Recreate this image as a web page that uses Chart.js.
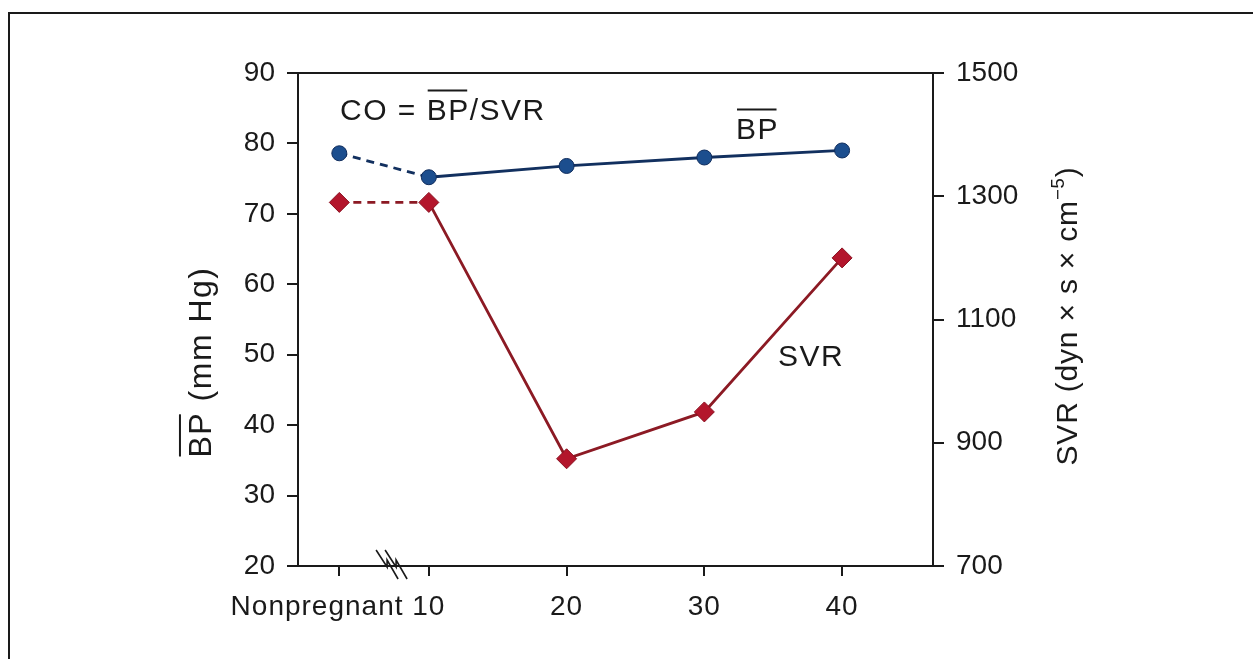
<!doctype html>
<html lang="en">
<head>
  <meta charset="utf-8">
  <title>BP and SVR in pregnancy</title>
  <style>
    html, body { margin: 0; padding: 0; background: #fff; }
    #wrap { width: 1253px; height: 659px; }
  </style>
</head>
<body>
  <div id="wrap"><canvas id="myChart" width="1253" height="659"></canvas></div>
  <script src="https://cdn.jsdelivr.net/npm/chart.js"></script>
  <script>
    // categories on the x axis, and where they sit on the (broken) week axis
    const categories = ['Nonpregnant', '10', '20', '30', '40'];
    const weekPositions = [3.5, 10, 20, 30, 40];

    // mean blood pressure (mm Hg, left axis) and SVR (dyn x s x cm-5, right axis)
    const bpValues = [78.6, 75.2, 76.8, 78.0, 79.0];
    const svrValues = [1290, 1290, 874, 950, 1200];

    const bpTicks = [20, 30, 40, 50, 60, 70, 80, 90];
    const svrTicks = [700, 900, 1100, 1300, 1500];

    const FONT = '"Liberation Sans", Arial, Helvetica, sans-serif';
    const INK = '#1a1a1a';

    const toPoints = vals => weekPositions.map((x, i) => ({ x: x, y: vals[i] }));
    const dashFirst = ctx => ctx.p0DataIndex === 0 ? [8, 6] : undefined;

    // text with optional overline / superscript pieces
    function richText(ctx, parts, x, y, align, size, spacing) {
      const f = s => s + 'px ' + FONT;
      ctx.letterSpacing = (spacing || 0) + 'px';
      const ws = parts.map(p => {
        ctx.font = f(p.sup ? size * 0.62 : size);
        return ctx.measureText(p.text).width;
      });
      const total = ws.reduce((a, b) => a + b, 0);
      let cx = align === 'center' ? x - total / 2 : align === 'right' ? x - total : x;
      ctx.textAlign = 'left';
      ctx.textBaseline = 'alphabetic';
      parts.forEach((p, i) => {
        ctx.font = f(p.sup ? size * 0.62 : size);
        ctx.fillText(p.text, cx, p.sup ? y - size * 0.45 : y);
        if (p.over) {
          const oy = y - size * 0.72 - 8;
          ctx.beginPath();
          ctx.moveTo(cx + 1, oy);
          ctx.lineTo(cx + ws[i] - (spacing || 0) - 1, oy);
          ctx.stroke();
        }
        cx += ws[i];
      });
      ctx.letterSpacing = '0px';
    }

    const decor = {
      id: 'decor',
      afterDraw(chart) {
        const ctx = chart.ctx;
        const a = chart.chartArea;
        const xs = chart.scales.x;
        ctx.save();
        ctx.strokeStyle = INK;
        ctx.fillStyle = INK;
        ctx.lineWidth = 2;

        // outer frame of the figure
        ctx.beginPath();
        ctx.moveTo(9, 659);
        ctx.lineTo(9, 13);
        ctx.lineTo(1253, 13);
        ctx.stroke();

        // top edge of the plot box
        ctx.beginPath();
        ctx.moveTo(a.left - 11, a.top);
        ctx.lineTo(a.right + 11, a.top);
        ctx.stroke();

        // axis break between nonpregnant and week 10
        const mid = (xs.getPixelForValue(weekPositions[0]) + xs.getPixelForValue(weekPositions[1])) / 2;
        ctx.lineWidth = 1.6;
        [mid - 8, mid + 1].forEach(x0 => {
          ctx.beginPath();
          ctx.moveTo(x0, a.bottom - 16);
          ctx.lineTo(x0 + 11, a.bottom + 1);
          ctx.lineTo(x0 + 11, a.bottom - 6);
          ctx.lineTo(x0 + 22, a.bottom + 13);
          ctx.stroke();
        });
        ctx.lineWidth = 2;

        // x tick labels
        ctx.font = '28px ' + FONT;
        ctx.letterSpacing = '1px';
        ctx.textBaseline = 'alphabetic';
        const labelY = a.bottom + 49;
        const p10 = xs.getPixelForValue(weekPositions[1]);
        categories.forEach((c, i) => {
          if (i === 0) return;
          ctx.textAlign = 'center';
          ctx.fillText(c, xs.getPixelForValue(weekPositions[i]), labelY);
        });
        ctx.textAlign = 'right';
        ctx.fillText(categories[0] + ' ', p10 - ctx.measureText(categories[1]).width / 2, labelY);
        ctx.letterSpacing = '0px';

        // annotations
        richText(ctx, [{ text: 'CO = ' }, { text: 'BP', over: true }, { text: '/SVR' }], a.left + 42, a.top + 47, 'left', 30, 1.5);
        richText(ctx, [{ text: 'BP', over: true }], a.left + 438, a.top + 66, 'left', 30, 1.5);
        richText(ctx, [{ text: 'SVR' }], a.left + 480, a.top + 293, 'left', 30, 1.5);

        // left axis title
        ctx.save();
        ctx.translate(211, 362);
        ctx.rotate(-Math.PI / 2);
        richText(ctx, [{ text: 'BP', over: true }, { text: ' (mm Hg)' }], 0, 0, 'center', 32, 1.5);
        ctx.restore();

        // right axis title
        ctx.save();
        ctx.translate(1077, 316);
        ctx.rotate(-Math.PI / 2);
        richText(ctx, [{ text: 'SVR (dyn \u00d7 s \u00d7 cm' }, { text: '\u22125', sup: true }, { text: ')' }], 0, 0, 'center', 30, 0.8);
        ctx.restore();

        ctx.restore();
      }
    };

    const axisGrid = { drawOnChartArea: false, color: INK, lineWidth: 2, tickLength: 11, tickWidth: 2 };
    const axisBorder = { display: true, color: INK, width: 2 };
    const tickFont = { family: FONT, size: 28 };

    const config = {
      type: 'line',
      data: {
        datasets: [
          {
            label: 'BP',
            data: toPoints(bpValues),
            yAxisID: 'y',
            borderColor: '#12305f',
            borderWidth: 2.8,
            pointStyle: 'circle',
            pointRadius: 7.5,
            pointBackgroundColor: '#1c4e8e',
            pointBorderColor: '#0f2c5c',
            pointBorderWidth: 1,
            segment: { borderDash: dashFirst }
          },
          {
            label: 'SVR',
            data: toPoints(svrValues),
            yAxisID: 'y2',
            borderColor: '#8c1a24',
            borderWidth: 2.8,
            pointStyle: 'rectRot',
            pointRadius: 10,
            pointBackgroundColor: '#b3162c',
            pointBorderColor: '#8a1020',
            pointBorderWidth: 1,
            segment: { borderDash: dashFirst }
          }
        ]
      },
      options: {
        responsive: false,
        animation: false,
        layout: { padding: { top: 73, left: 0, right: 0, bottom: 0 } },
        plugins: {
          legend: { display: false },
          tooltip: { enabled: false }
        },
        scales: {
          x: {
            type: 'linear',
            min: 0.5,
            max: 46.6,
            afterBuildTicks: s => { s.ticks = weekPositions.map(v => ({ value: v })); },
            afterFit: s => { s.height = 93; },
            ticks: { display: false },
            grid: Object.assign({}, axisGrid, { tickLength: 10 }),
            border: axisBorder
          },
          y: {
            position: 'left',
            min: 20,
            max: 90,
            afterBuildTicks: s => { s.ticks = bpTicks.map(v => ({ value: v })); },
            afterFit: s => { s.width = 298; },
            ticks: { color: INK, font: tickFont, padding: 12, callback: v => String(v) },
            grid: axisGrid,
            border: axisBorder
          },
          y2: {
            position: 'right',
            min: 700,
            max: 1500,
            afterBuildTicks: s => { s.ticks = svrTicks.map(v => ({ value: v })); },
            afterFit: s => { s.width = 320; },
            ticks: { color: INK, font: tickFont, padding: 12, callback: v => String(v) },
            grid: axisGrid,
            border: axisBorder
          }
        }
      },
      plugins: [decor]
    };

    const myChart = new Chart(document.getElementById('myChart'), config);
  </script>
</body>
</html>
